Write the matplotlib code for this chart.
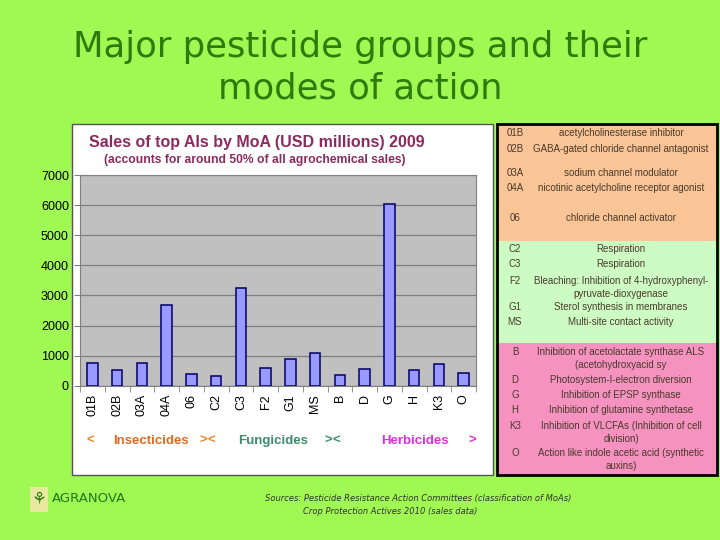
import matplotlib
matplotlib.use("Agg")
import matplotlib.pyplot as plt
from matplotlib.patches import Rectangle
import numpy as np

# data
codes = ["01B", "02B", "03A", "04A", "06", "C2", "C3", "F2", "G1", "MS",
         "B", "D", "G", "H", "K3", "O"]
sales = [740, 510, 740, 2670, 380, 310, 3240, 580, 880, 1080,
         350, 550, 6040, 510, 720, 420]

insect_codes = ["01B", "02B", "03A", "04A", "06"]
insect_desc = ["acetylcholinesterase inhibitor",
               "GABA-gated chloride channel antagonist",
               "sodium channel modulator",
               "nicotinic acetylcholine receptor agonist",
               "chloride channel activator"]
fungi_codes = ["C2", "C3", "F2", "G1", "MS"]
fungi_desc = ["Respiration", "Respiration",
              "Bleaching: Inhibition of 4-hydroxyphenyl-\npyruvate-dioxygenase",
              "Sterol synthesis in membranes", "Multi-site contact activity"]
herb_codes = ["B", "D", "G", "H", "K3", "O"]
herb_desc = ["Inhibition of acetolactate synthase ALS\n(acetohydroxyacid sy",
             "Photosystem-I-electron diversion",
             "Inhibition of EPSP synthase",
             "Inhibition of glutamine synthetase",
             "Inhibition of VLCFAs (Inhibition of cell\ndivision)",
             "Action like indole acetic acid (synthetic\nauxins)"]

W, H = 720, 540
BG = "#A0F853"
fig = plt.figure(figsize=(7.2, 5.4), dpi=100)
fig.patch.set_facecolor(BG)


def px(x0, y0, x1, y1):
    """pixel box (top-left origin) -> figure fraction rect"""
    return [x0 / W, 1 - y1 / H, (x1 - x0) / W, (y1 - y0) / H]


def fx(x):
    return x / W


def fy(y):
    return 1 - y / H


# slide title
fig.text(0.5, fy(47), "Major pesticide groups and their", ha="center", va="center",
         fontsize=25.5, color="#2E7A0A", family="DejaVu Sans")
fig.text(0.5, fy(89), "modes of action", ha="center", va="center",
         fontsize=25.5, color="#2E7A0A", family="DejaVu Sans")

# white chart box
fig.patches.append(Rectangle((fx(72), fy(475)), (493 - 72) / W, (475 - 124) / H,
                             transform=fig.transFigure, facecolor="white",
                             edgecolor="#555555", linewidth=1, zorder=-1))

ax = fig.add_axes(px(80, 175, 476, 385.7))
ax.set_zorder(3)
ax.set_facecolor("#C0C0C0")
x = np.arange(len(codes))
ax.bar(x, sales, width=0.42, color="#9999FF", edgecolor="#000066", linewidth=1.1, zorder=3)
ax.set_xlim(-0.5, len(codes) - 0.5)
ax.set_ylim(0, 7000)
ax.set_yticks(range(0, 7001, 1000))
ax.yaxis.grid(True, color="#808080", linewidth=0.9, zorder=1)
ax.set_xticks(x)
ax.set_xticklabels(codes, rotation=90, fontsize=9, family="Liberation Sans")
ax.tick_params(axis="x", length=0, pad=6)
ax.set_xticks(np.arange(-0.5, len(codes), 1), minor=True)
ax.tick_params(axis="x", which="minor", length=4, color="#808080")
ax.tick_params(axis="y", labelsize=9, length=4, color="#808080", pad=4)
for lab in ax.get_yticklabels():
    lab.set_family("Liberation Sans")
for s in ["top", "right", "left", "bottom"]:
    ax.spines[s].set_color("#808080")

# chart title
fig.text(fx(257), fy(143), "Sales of top AIs by MoA (USD millions) 2009", ha="center",
         va="center", fontsize=11.5, fontweight="bold", color="#8B2A5E",
         family="Liberation Sans")
fig.text(fx(255), fy(160), "(accounts for around 50% of all agrochemical sales)",
         ha="center", va="center", fontsize=8.7, fontweight="bold", color="#8B2A5E",
         family="Liberation Sans")

# group labels
grp = [(90, "<", "#E8862A"), (151, "Insecticides", "#E06A1E"),
       (203, ">", "#E8862A"), (211, "<", "#E8862A"),
       (273, "Fungicides", "#3A8F6A"), (328, ">", "#3A8F6A"), (336, "<", "#3A8F6A"),
       (415, "Herbicides", "#DD2FDD"), (472, ">", "#DD2FDD")]
for gx, t, c in grp:
    fig.text(fx(gx), fy(441), t, ha="center", va="center", fontsize=9.5,
             fontweight="bold", color=c, family="Liberation Sans")

# right-hand legend table
sections = [(124, 241, "#F9C597", insect_codes, insect_desc, [133, 149, 173, 188, 218]),
            (241, 343, "#CCFCC4", fungi_codes, fungi_desc, [249, 264, 281, 307, 322]),
            (343, 475, "#F592C0", herb_codes, herb_desc, [352, 380, 395, 410, 426, 453])]
for y0, y1, col, cds, dsc, rows in sections:
    fig.patches.append(Rectangle((fx(497), fy(y1)), (717 - 497) / W, (y1 - y0) / H,
                                 transform=fig.transFigure, facecolor=col,
                                 edgecolor="none", zorder=1))
    for c, d, ry in zip(cds, dsc, rows):
        fig.text(fx(515), fy(ry), c, ha="center", va="center", fontsize=7,
                 color="#4A3A2A", family="Liberation Sans")
        two = "\n" in d
        fig.text(fx(621), fy(ry - 5) if two else fy(ry), d, ha="center",
                 va="top" if two else "center", fontsize=7, color="#4A3A2A",
                 family="Liberation Sans", linespacing=1.4)
fig.patches.append(Rectangle((fx(497), fy(475)), (717 - 497) / W, (475 - 124) / H,
                             transform=fig.transFigure, facecolor="none",
                             edgecolor="black", linewidth=2, zorder=2))

# footer
fig.patches.append(Rectangle((fx(30), fy(512)), 18 / W, 25 / H, transform=fig.transFigure,
                             facecolor="#E8E8A0", edgecolor="none"))
fig.text(fx(39), fy(499), "\u2698", ha="center", va="center", fontsize=12,
         color="#2E7A0A", family="DejaVu Sans")
fig.text(fx(52), fy(499), "AGRANOVA", ha="left", va="center", fontsize=9.5,
         color="#1E7A1E", family="DejaVu Sans")
fig.text(fx(418), fy(499),
         "Sources: Pesticide Resistance Action Committees (classification of MoAs)",
         ha="center", va="center", fontsize=6, style="italic", color="#333333",
         family="DejaVu Sans")
fig.text(fx(390), fy(511), "Crop Protection Actives 2010 (sales data)",
         ha="center", va="center", fontsize=6, style="italic", color="#333333",
         family="DejaVu Sans")

fig.savefig("out.png", dpi=100, facecolor=fig.get_facecolor())
